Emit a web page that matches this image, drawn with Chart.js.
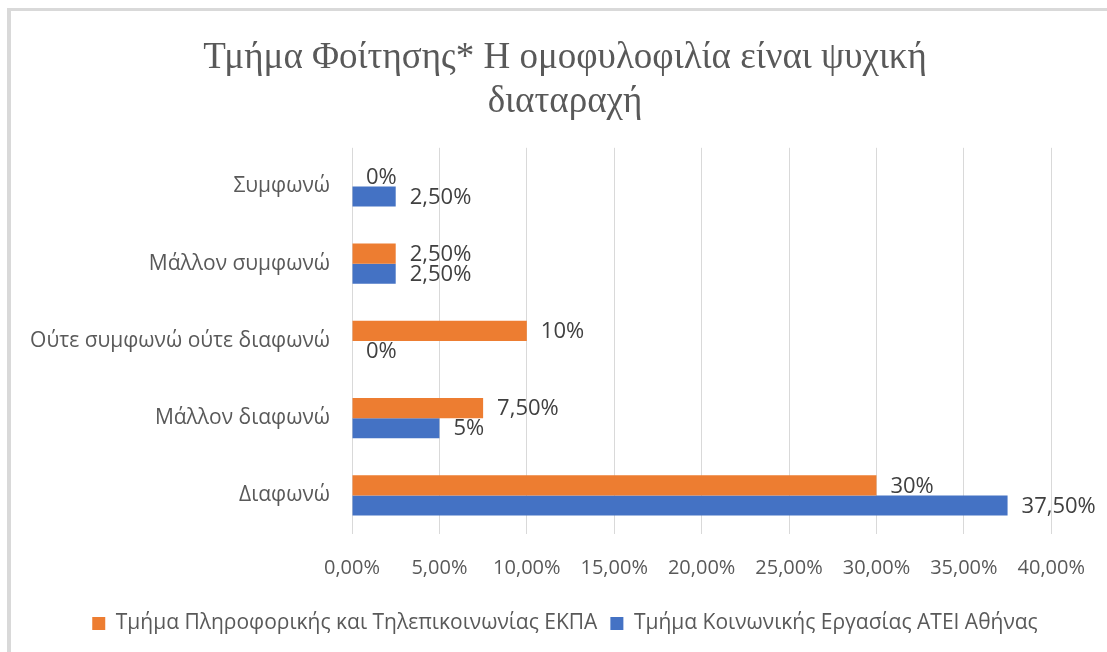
<!DOCTYPE html>
<html>
<head>
<meta charset="utf-8">
<script src="https://cdn.jsdelivr.net/npm/chart.js@4.4.1/dist/chart.umd.min.js"></script>
<style>
    html, body { margin: 0; padding: 0; background: #fff; }
    #wrap { position: relative; width: 1107px; height: 652px; overflow: hidden; }
    #frame {
        position: absolute; left: 7px; top: 8px; width: 1200px; height: 700px;
        border-left: 4px solid #d9d9d9; border-top: 3px solid #d9d9d9;
    }
    canvas { position: absolute; left: 0; top: 0; }
</style>
</head>
<body>
<div id="wrap">
    <div id="frame"></div>
    <canvas id="myChart" width="1107" height="652"></canvas>
</div>
<script>
const titleLines = ['Τμήμα Φοίτησης* Η ομοφυλοφιλία είναι ψυχική', 'διαταραχή'];
const categories = ['Συμφωνώ', 'Μάλλον συμφωνώ', 'Ούτε συμφωνώ ούτε διαφωνώ', 'Μάλλον διαφωνώ', 'Διαφωνώ'];
const seriesNames = ['Τμήμα Πληροφορικής και Τηλεπικοινωνίας ΕΚΠΑ', 'Τμήμα Κοινωνικής Εργασίας ΑΤΕΙ Αθήνας'];
const ekpaValues = [0, 2.5, 10, 7.5, 30];
const ateiValues = [2.5, 2.5, 0, 5, 37.5];
const xTicks = [0, 5, 10, 15, 20, 25, 30, 35, 40];

const sansFont = "'Open Sans', 'Noto Sans', sans-serif";
const padLeft = 77;

function pctLabel(v) {
    return Number.isInteger(v) ? v + '%' : v.toFixed(2).replace('.', ',') + '%';
}

// value labels to the right of each bar
const barLabels = {
    id: 'barLabels',
    afterDatasetsDraw(chart) {
        const ctx = chart.ctx;
        ctx.save();
        ctx.font = '22px ' + sansFont;
        ctx.fillStyle = '#404040';
        ctx.textAlign = 'left';
        ctx.textBaseline = 'middle';
        chart.data.datasets.forEach((ds, i) => {
            chart.getDatasetMeta(i).data.forEach((bar, j) => {
                ctx.fillText(pctLabel(ds.data[j]), bar.x + 14, bar.y + 1);
            });
        });
        ctx.restore();
    }
};

new Chart(document.getElementById('myChart'), {
    type: 'bar',
    data: {
        labels: categories,
        datasets: [{
            label: seriesNames[0],
            data: ekpaValues,
            backgroundColor: '#ED7D31',
            categoryPercentage: 0.52,
            barPercentage: 1.0
        },
        {
            label: seriesNames[1],
            data: ateiValues,
            backgroundColor: '#4472C4',
            categoryPercentage: 0.52,
            barPercentage: 1.0
        }]
    },
    options: {
        indexAxis: 'y',
        animation: false,
        responsive: false,
        layout: {
            padding: { left: padLeft, right: 54, top: 0, bottom: 8 }
        },
        plugins: {
            title: {
                display: true,
                text: titleLines,
                color: '#595959',
                font: { family: "'Liberation Serif', serif", size: 37, weight: 'normal', lineHeight: 1.2 },
                padding: { top: 36, bottom: 23 }
            },
            legend: {
                position: 'bottom',
                labels: {
                    boxWidth: 13,
                    boxHeight: 13,
                    padding: 13,
                    color: '#595959',
                    font: { family: sansFont, size: 21 }
                }
            },
            tooltip: { enabled: false }
        },
        scales: {
            x: {
                min: 0,
                max: 40,
                afterBuildTicks: (scale) => { scale.ticks = xTicks.map(v => ({ value: v })); },
                afterFit: (scale) => { scale.height = 66; },
                grid: { color: '#d9d9d9', drawTicks: false },
                border: { display: false },
                ticks: {
                    padding: 22,
                    color: '#595959',
                    font: { family: sansFont, size: 20 },
                    callback: (v) => v.toFixed(2).replace('.', ',') + '%'
                }
            },
            y: {
                afterFit: (scale) => {
                    scale.width = 352 - padLeft;
                    // let long category names run past the axis box
                    scale._computeLabelArea = () => undefined;
                },
                grid: { display: false, drawTicks: false },
                border: { display: false },
                ticks: {
                    padding: 22,
                    color: '#595959',
                    font: { family: sansFont, size: 21 }
                }
            }
        }
    },
    plugins: [barLabels]
});
</script>
</body>
</html>
